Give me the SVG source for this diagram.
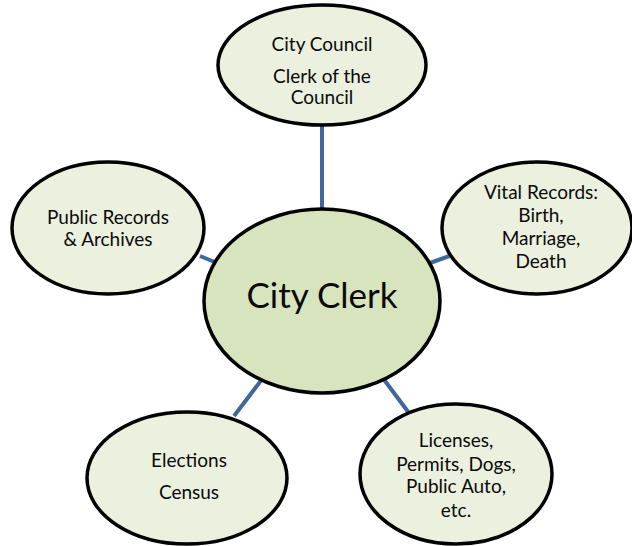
<svg xmlns="http://www.w3.org/2000/svg" width="632" height="546" viewBox="0 0 632 546">
  <style>
    .sat { fill: #ebf1de; stroke: #000; stroke-width: 3.5; }
    .hub { fill: #d7e4bd; stroke: #000; stroke-width: 3.5; }
    .link { stroke: #41689c; stroke-width: 4; fill: none; }
    text { font-family: "Lato", "Liberation Sans", sans-serif; fill: #0a0a0a; text-anchor: middle; }
    .s { font-size: 19px; }
    .big { font-size: 35px; }
  </style>
  <rect width="632" height="546" fill="#fff"/>
  <g id="connectors">
    <line class="link" x1="322" y1="124" x2="322" y2="211"/>
    <line class="link" x1="200" y1="256" x2="217" y2="263"/>
    <line class="link" x1="430" y1="263" x2="452" y2="255"/>
    <line class="link" x1="234" y1="416" x2="266" y2="374"/>
    <line class="link" x1="379" y1="373" x2="409" y2="413"/>
  </g>
  <g id="city-council">
    <ellipse class="sat" cx="322" cy="65" rx="104" ry="60"/>
    <text class="s" x="322" y="51">City Council</text>
    <text class="s" x="322" y="83">Clerk of the</text>
    <text class="s" x="322" y="104">Council</text>
  </g>
  <g id="public-records">
    <ellipse class="sat" cx="108" cy="228" rx="96" ry="66"/>
    <text class="s" x="108" y="224">Public Records</text>
    <text class="s" x="108" y="246">&amp; Archives</text>
  </g>
  <g id="vital-records">
    <ellipse class="sat" cx="537" cy="228" rx="95" ry="66"/>
    <text class="s" x="541" y="199">Vital Records:</text>
    <text class="s" x="541" y="222">Birth,</text>
    <text class="s" x="541" y="245">Marriage,</text>
    <text class="s" x="541" y="268">Death</text>
  </g>
  <g id="city-clerk">
    <ellipse class="hub" cx="322" cy="301" rx="118" ry="92"/>
    <text class="big" x="322" y="308">City Clerk</text>
  </g>
  <g id="elections">
    <ellipse class="sat" cx="187" cy="478" rx="100" ry="66"/>
    <text class="s" x="189" y="467">Elections</text>
    <text class="s" x="189" y="499">Census</text>
  </g>
  <g id="licenses">
    <ellipse class="sat" cx="456" cy="474" rx="96" ry="70"/>
    <text class="s" x="456" y="447">Licenses,</text>
    <text class="s" x="456" y="471">Permits, Dogs,</text>
    <text class="s" x="456" y="493">Public Auto,</text>
    <text class="s" x="456" y="517">etc.</text>
  </g>
</svg>
